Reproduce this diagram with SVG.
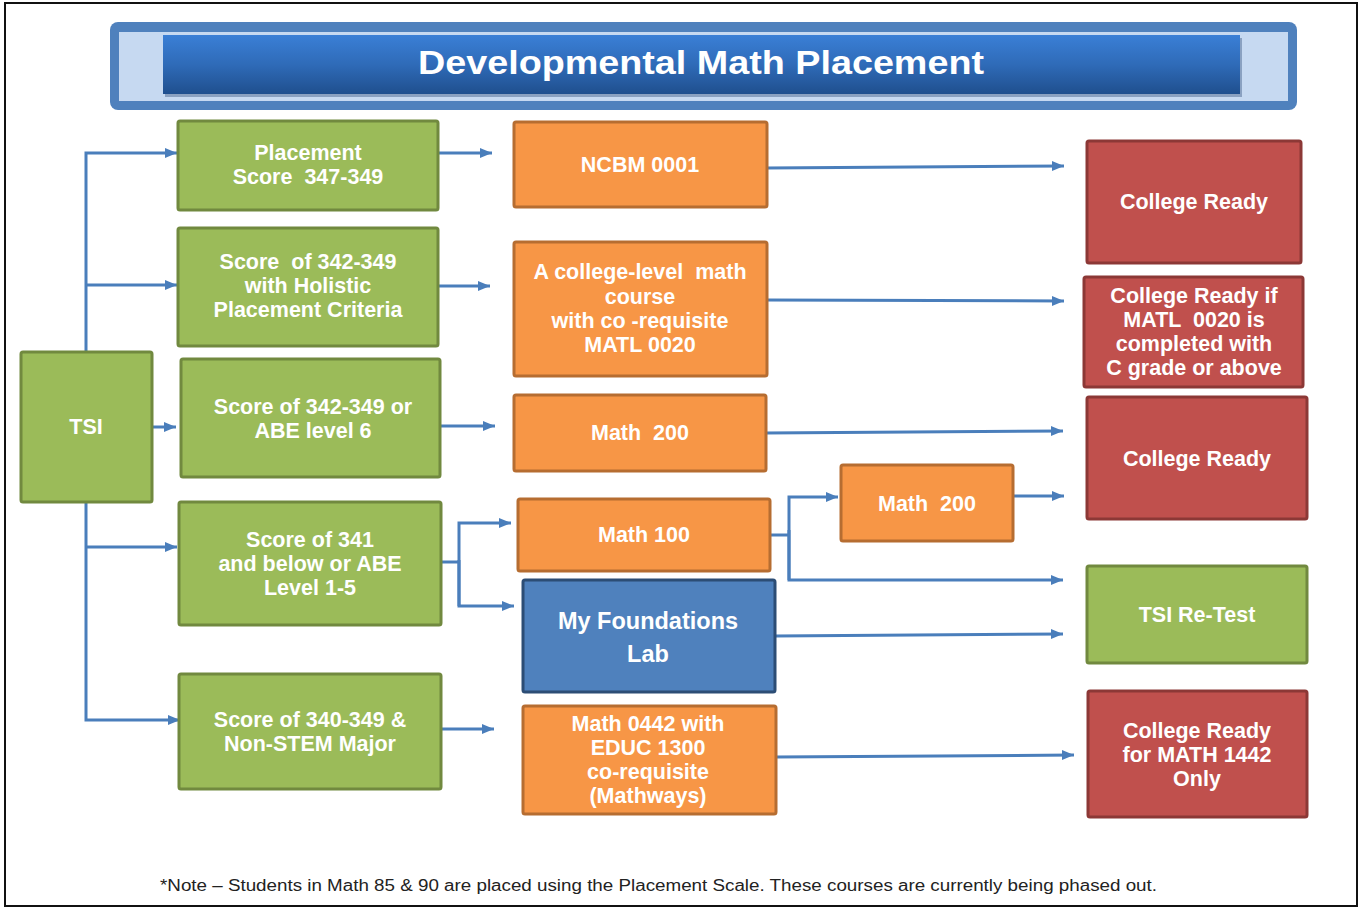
<svg xmlns="http://www.w3.org/2000/svg" width="1364" height="909" viewBox="0 0 1364 909">
<style>
.g{fill:#9bbb59;stroke:#71893f;stroke-width:3}
.o{fill:#f79646;stroke:#b66d31;stroke-width:3}
.r{fill:#c0504d;stroke:#8c3836;stroke-width:3}
.b{fill:#4f81bd;stroke:#2c4d75;stroke-width:3}
.t{font-family:"Liberation Sans",Arial,sans-serif;font-weight:bold;font-size:21.5px;fill:#ffffff;text-anchor:middle;white-space:pre}
.c{fill:none;stroke:#4a7ebb;stroke-width:3}
.a{marker-end:url(#ah)}
</style>
<defs>
<marker id="ah" markerUnits="userSpaceOnUse" markerWidth="14" markerHeight="12" refX="12" refY="6" orient="auto">
<path d="M0,1 L12,6 L0,11 Z" fill="#4a7ebb"/>
</marker>
<linearGradient id="hg" x1="0" y1="0" x2="0" y2="1">
<stop offset="0" stop-color="#3a7fd6"/>
<stop offset="0.5" stop-color="#2f6bb8"/>
<stop offset="1" stop-color="#1f4f8e"/>
</linearGradient>
</defs>
<rect x="0" y="0" width="1364" height="909" fill="#ffffff"/>
<rect x="5" y="3" width="1352" height="903" fill="none" stroke="#111111" stroke-width="2"/>
<g id="header">
<rect x="110" y="22" width="1187" height="88" rx="8" fill="#4f81bd"/>
<rect x="119" y="32" width="1169" height="69" fill="#c6d9f1"/>
<rect x="165" y="38" width="1077" height="59" fill="#1a3a66" opacity="0.35"/>
<rect x="163" y="35" width="1077" height="59" fill="url(#hg)"/>
<text x="418" y="74" font-family="Liberation Sans,Arial,sans-serif" font-weight="bold" font-size="34" fill="#ffffff" textLength="566" lengthAdjust="spacingAndGlyphs">Developmental Math Placement</text>
</g>
<g id="connectors">
<path class="c a" d="M86,352 V153 H177"/>
<path class="c a" d="M86,285 H177"/>
<path class="c a" d="M152,427 H176"/>
<path class="c a" d="M86,502 V720 H180"/>
<path class="c a" d="M86,547 H177"/>
<path class="c a" d="M438,153 H492"/>
<path class="c a" d="M438,286 H490"/>
<path class="c a" d="M440,426 H495"/>
<path class="c" d="M441,562 H459"/>
<path class="c a" d="M459,606 V523 H511"/>
<path class="c a" d="M459,560 V606 H514"/>
<path class="c a" d="M441,729 H494"/>
<path class="c a" d="M767,168 L1064,166"/>
<path class="c a" d="M767,300 L1064,301"/>
<path class="c a" d="M766,433 L1063,431"/>
<path class="c" d="M770,535 H789"/>
<path class="c a" d="M789,580 V497 H838"/>
<path class="c a" d="M789,530 V580 H1063"/>
<path class="c a" d="M1013,496 H1064"/>
<path class="c a" d="M775,636 L1063,634"/>
<path class="c a" d="M776,757 L1074,755"/>
</g>
<g id="tsi"><rect class="g" x="21" y="352" width="131" height="150" rx="2"/><text class="t" x="86" y="434">TSI</text></g>
<g id="placement"><rect class="g" x="178" y="121" width="260" height="89" rx="2"/><text class="t" x="308" y="160">Placement</text><text class="t" x="308" y="184">Score  347-349</text></g>
<g id="holistic"><rect class="g" x="178" y="228" width="260" height="118" rx="2"/><text class="t" x="308" y="269">Score  of 342-349</text><text class="t" x="308" y="293">with Holistic</text><text class="t" x="308" y="317">Placement Criteria</text></g>
<g id="abe6"><rect class="g" x="181" y="359" width="259" height="118" rx="2"/><text class="t" x="313" y="414">Score of 342-349 or</text><text class="t" x="313" y="438">ABE level 6</text></g>
<g id="s341"><rect class="g" x="179" y="502" width="262" height="123" rx="2"/><text class="t" x="310" y="547">Score of 341</text><text class="t" x="310" y="571">and below or ABE</text><text class="t" x="310" y="595">Level 1-5</text></g>
<g id="nonstem"><rect class="g" x="179" y="674" width="262" height="115" rx="2"/><text class="t" x="310" y="727">Score of 340-349 &amp;</text><text class="t" x="310" y="751">Non-STEM Major</text></g>
<g id="ncbm"><rect class="o" x="514" y="122" width="253" height="85" rx="2"/><text class="t" x="640" y="172">NCBM 0001</text></g>
<g id="collegelevel"><rect class="o" x="514" y="242" width="253" height="134" rx="2"/><text class="t" x="640" y="279">A college-level  math</text><text class="t" x="640" y="304">course</text><text class="t" x="640" y="328">with co -requisite</text><text class="t" x="640" y="352">MATL 0020</text></g>
<g id="math200a"><rect class="o" x="514" y="395" width="252" height="76" rx="2"/><text class="t" x="640" y="440">Math  200</text></g>
<g id="math100"><rect class="o" x="518" y="499" width="252" height="72" rx="2"/><text class="t" x="644" y="542">Math 100</text></g>
<g id="mfl"><rect class="b" x="523" y="580" width="252" height="112" rx="2"/><text class="t" x="648" y="629" style="font-size:23.5px">My Foundations</text><text class="t" x="648" y="662" style="font-size:23.5px">Lab</text></g>
<g id="math0442"><rect class="o" x="523" y="706" width="253" height="108" rx="2"/><text class="t" x="648" y="731">Math 0442 with</text><text class="t" x="648" y="755">EDUC 1300</text><text class="t" x="648" y="779">co-requisite</text><text class="t" x="648" y="803">(Mathways)</text></g>
<g id="math200b"><rect class="o" x="841" y="465" width="172" height="76" rx="2"/><text class="t" x="927" y="511">Math  200</text></g>
<g id="cr1"><rect class="r" x="1087" y="141" width="214" height="122" rx="2"/><text class="t" x="1194" y="209">College Ready</text></g>
<g id="crif"><rect class="r" x="1084" y="277" width="219" height="110" rx="2"/><text class="t" x="1194" y="303">College Ready if</text><text class="t" x="1194" y="327">MATL  0020 is</text><text class="t" x="1194" y="351">completed with</text><text class="t" x="1194" y="375">C grade or above</text></g>
<g id="cr2"><rect class="r" x="1087" y="397" width="220" height="122" rx="2"/><text class="t" x="1197" y="466">College Ready</text></g>
<g id="retest"><rect class="g" x="1087" y="566" width="220" height="97" rx="2"/><text class="t" x="1197" y="622">TSI Re-Test</text></g>
<g id="cr1442"><rect class="r" x="1088" y="691" width="219" height="126" rx="2"/><text class="t" x="1197" y="738">College Ready</text><text class="t" x="1197" y="762">for MATH 1442</text><text class="t" x="1197" y="786">Only</text></g>
<text x="160" y="891" font-family="Liberation Sans Narrow,Liberation Sans,sans-serif" font-size="16" fill="#222222" textLength="997" lengthAdjust="spacingAndGlyphs">*Note – Students in Math 85 &amp; 90 are placed using the Placement Scale. These courses are currently being phased out.</text>
</svg>
